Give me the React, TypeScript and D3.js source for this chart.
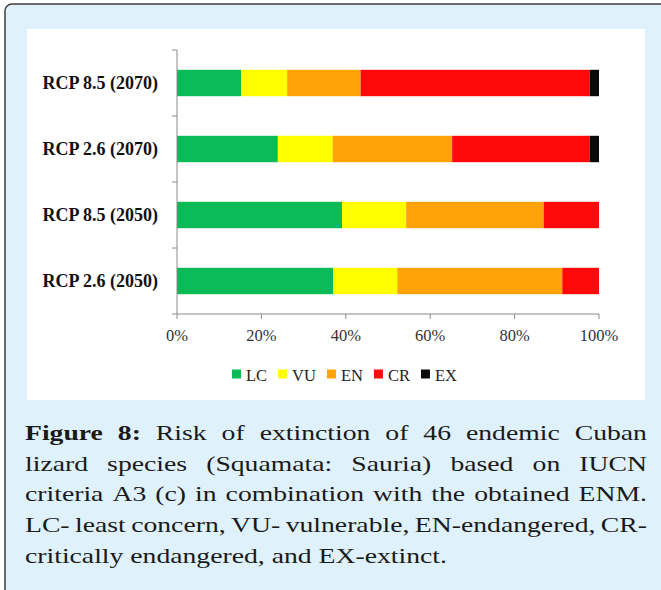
import { useRef, useEffect } from "react"
import * as d3 from "d3"

// categories top to bottom
const categories = ["RCP 8.5 (2070)", "RCP 2.6 (2070)", "RCP 8.5 (2050)", "RCP 2.6 (2050)"]
const classes = ["LC", "VU", "EN", "CR", "EX"]
const classColors = ["#0abb57", "#ffff00", "#ffa30b", "#ff0a0a", "#0a0a0a"]

// percentage of species per class, one value per category
const lcValues = [15.2, 23.9, 39.1, 37.0]
const vuValues = [10.9, 13.0, 15.2, 15.2]
const enValues = [17.4, 28.3, 32.6, 39.1]
const crValues = [54.3, 32.6, 13.1, 8.7]
const exValues = [2.2, 2.2, 0, 0]

const xTicks = [0, 20, 40, 60, 80, 100]

const captionLines = [
  "Figure 8: Risk of extinction of 46 endemic Cuban",
  "lizard species (Squamata: Sauria) based on IUCN",
  "criteria A3 (c) in combination with the obtained ENM.",
  "LC- least concern, VU- vulnerable, EN-endangered, CR-",
  "critically endangered, and EX-extinct.",
]
const boldWords = ["Figure", "8:"]

const FONT = "'Liberation Serif', 'Times New Roman', serif"

const App = () => {
  const svgRef = useRef<SVGSVGElement>(null)

  useEffect(() => {
    const svg = d3.select(svgRef.current)
    svg.selectAll("*").remove()

    // Panel background
    svg
      .append("rect")
      .attr("x", 5)
      .attr("y", 4)
      .attr("width", 700)
      .attr("height", 640)
      .attr("rx", 7)
      .attr("fill", "#dff1fb")
      .attr("stroke", "#3c3c3c")
      .attr("stroke-width", 1.5)

    svg.append("rect").attr("x", 27).attr("y", 29).attr("width", 618).attr("height", 371).attr("fill", "#ffffff")

    const table = categories.map((c, i) => ({
      cat: c,
      LC: lcValues[i],
      VU: vuValues[i],
      EN: enValues[i],
      CR: crValues[i],
      EX: exValues[i],
    }))
    const series = d3.stack<any>().keys(classes)(table)

    const x = d3.scaleLinear().domain([0, 100]).range([177, 599])
    const y = d3.scaleBand().domain(categories).range([50, 314]).paddingInner(0.6).paddingOuter(0.3)
    const color = d3.scaleOrdinal<string>().domain(classes).range(classColors)

    // Bars
    svg
      .append("g")
      .selectAll("g")
      .data(series)
      .enter()
      .append("g")
      .attr("fill", (d) => color(d.key))
      .selectAll("rect")
      .data((d) => d)
      .enter()
      .append("rect")
      .attr("x", (d) => x(d[0]))
      .attr("y", (d: any) => y(d.data.cat)!)
      .attr("width", (d) => Math.max(0, x(d[1]) - x(d[0])))
      .attr("height", y.bandwidth())

    const axisColor = "#8a8a8a"

    // Y axis with ticks at band boundaries
    const step = y.step()
    const yStart = 50
    const yBounds = d3.range(categories.length + 1).map((i) => yStart + i * step)
    const yAxis = svg.append("g")
    yAxis.append("line").attr("x1", x(0)).attr("x2", x(0)).attr("y1", yStart).attr("y2", 314).attr("stroke", axisColor)
    yAxis
      .selectAll("line.tick")
      .data(yBounds)
      .enter()
      .append("line")
      .attr("class", "tick")
      .attr("x1", x(0) - 5)
      .attr("x2", x(0))
      .attr("y1", (d) => d)
      .attr("y2", (d) => d)
      .attr("stroke", axisColor)

    // Category labels
    svg
      .append("g")
      .selectAll("text")
      .data(categories)
      .enter()
      .append("text")
      .attr("x", 158)
      .attr("y", (d) => y(d)! + y.bandwidth() / 2 + 6)
      .attr("text-anchor", "end")
      .style("font-family", FONT)
      .style("font-weight", "bold")
      .style("font-size", "18px")
      .style("fill", "#111")
      .text((d) => d)

    // X axis
    const xAxis = svg.append("g")
    xAxis.append("line").attr("x1", x(0)).attr("x2", x(100)).attr("y1", 314).attr("y2", 314).attr("stroke", axisColor)
    xAxis
      .selectAll("line.tick")
      .data(xTicks)
      .enter()
      .append("line")
      .attr("class", "tick")
      .attr("x1", (d) => x(d))
      .attr("x2", (d) => x(d))
      .attr("y1", 314)
      .attr("y2", 319)
      .attr("stroke", axisColor)
    xAxis
      .selectAll("text")
      .data(xTicks)
      .enter()
      .append("text")
      .attr("x", (d) => x(d))
      .attr("y", 341)
      .attr("text-anchor", "middle")
      .style("font-family", FONT)
      .style("font-size", "16.5px")
      .style("fill", "#333")
      .text((d) => `${d}%`)

    // Legend
    const legend = svg.append("g")
    let lx = 232
    classes.forEach((c) => {
      legend.append("rect").attr("x", lx).attr("y", 369.5).attr("width", 9).attr("height", 9).attr("fill", color(c))
      const t = legend
        .append("text")
        .attr("x", lx + 14)
        .attr("y", 380.5)
        .style("font-family", FONT)
        .style("font-size", "16.5px")
        .style("fill", "#222")
        .text(c)
      const w = (t.node() as SVGTextElement).getComputedTextLength()
      lx += 14 + w + 11
    })

    // Caption, justified
    const cap = svg.append("g")
    const styleText = (t: any, bold: boolean) =>
      t
        .style("font-family", FONT)
        .style("font-size", "22px")
        .style("font-weight", bold ? "bold" : "normal")
        .style("fill", "#1a1a1a")
    const measure = (word: string, bold: boolean) => {
      const t = styleText(cap.append("text"), bold).text(word)
      const w = (t.node() as SVGTextElement).getComputedTextLength()
      t.remove()
      return w
    }
    const last = captionLines[captionLines.length - 1]
    const k = 422 / measure(last, false)
    const lineWidth = 622 / k
    const capG = cap.append("g").attr("transform", `translate(25,0) scale(${k},1)`)

    captionLines.forEach((line, li) => {
      const baseline = 440 + li * 30.75
      const isLast = li === captionLines.length - 1
      if (isLast) {
        styleText(capG.append("text"), false).attr("x", 0).attr("y", baseline).text(line)
        return
      }
      const words = line.split(" ")
      const bolds = words.map((w, wi) => li === 0 && wi < 2 && boldWords.includes(w))
      const widths = words.map((w, wi) => measure(w, bolds[wi]))
      const gap = (lineWidth - d3.sum(widths)) / (words.length - 1)
      let wx = 0
      words.forEach((w, wi) => {
        styleText(capG.append("text"), bolds[wi]).attr("x", wx).attr("y", baseline).text(w)
        wx += widths[wi] + gap
      })
    })
  }, [])

  return (
    <div style={{ position: "absolute", left: 0, top: 0 }}>
      <svg ref={svgRef} width={661} height={590} style={{ display: "block" }}></svg>
    </div>
  )
}

export default App
